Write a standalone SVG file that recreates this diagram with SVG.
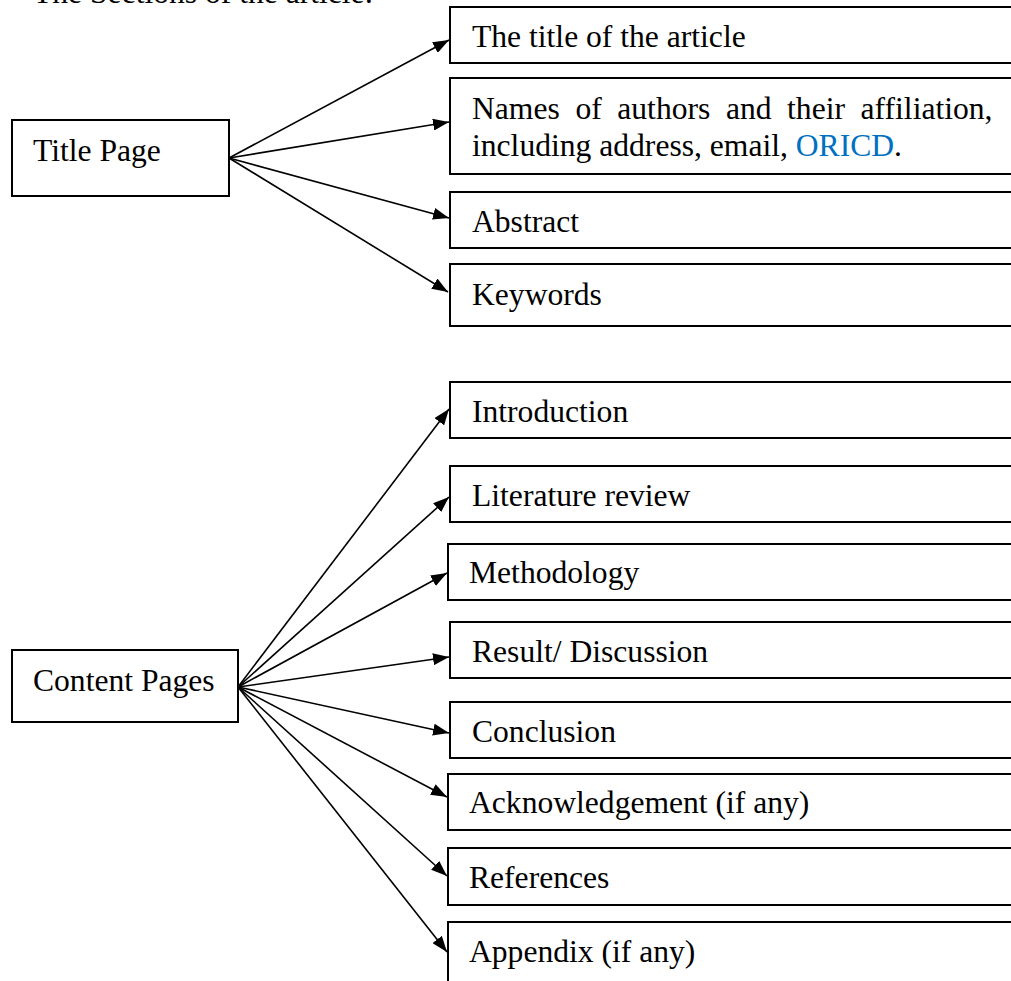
<svg xmlns="http://www.w3.org/2000/svg" width="1011" height="981" viewBox="0 0 1011 981">
<style>
  .box { fill: #ffffff; stroke: #000000; stroke-width: 2; }
  .t { font-family: "Liberation Serif", "Times New Roman", serif; font-size: 31.6px; fill: #000000; }
  .link { fill: #0070C0; }
  .con line { stroke: #000000; stroke-width: 1.6; marker-end: url(#arr); }
</style>
<defs>
  <marker id="arr" markerUnits="userSpaceOnUse" markerWidth="17" markerHeight="12" refX="16" refY="6" orient="auto">
    <path d="M0,0 L16,6 L0,12 z" fill="#000000"/>
  </marker>
</defs>
<rect width="1011" height="981" fill="#ffffff"/>
<text class="t" x="33" y="3">The Sections of the article:</text>

<g id="title-page">
  <rect class="box" x="12" y="120" width="217" height="76"/>
  <text class="t" x="33" y="161">Title Page</text>
</g>
<g id="content-pages">
  <rect class="box" x="12" y="650" width="226" height="72"/>
  <text class="t" x="33" y="691">Content Pages</text>
</g>

<g id="n-title">
  <rect class="box" x="450" y="7" width="570" height="56"/>
  <text class="t" x="472" y="47">The title of the article</text>
</g>
<g id="n-names">
  <rect class="box" x="450" y="78" width="570" height="96"/>
  <text class="t" y="119"><tspan x="472">Names</tspan><tspan x="575.4">of</tspan><tspan x="617.3">authors</tspan><tspan x="725.9">and</tspan><tspan x="787.1">their</tspan><tspan x="860.6">affiliation,</tspan></text>
  <text class="t" x="472" y="156">including address, email, <tspan class="link">ORICD</tspan>.</text>
</g>
<g id="n-abstract">
  <rect class="box" x="450" y="192" width="570" height="56"/>
  <text class="t" x="472" y="232">Abstract</text>
</g>
<g id="n-keywords">
  <rect class="box" x="450" y="264" width="570" height="62"/>
  <text class="t" x="472" y="305">Keywords</text>
</g>

<g id="n-introduction">
  <rect class="box" x="450" y="382" width="570" height="56"/>
  <text class="t" x="472" y="422">Introduction</text>
</g>
<g id="n-literature">
  <rect class="box" x="450" y="466" width="570" height="56"/>
  <text class="t" x="472" y="506">Literature review</text>
</g>
<g id="n-methodology">
  <rect class="box" x="448" y="544" width="570" height="56"/>
  <text class="t" x="469" y="583">Methodology</text>
</g>
<g id="n-result">
  <rect class="box" x="450" y="622" width="570" height="56"/>
  <text class="t" x="472" y="662">Result/ Discussion</text>
</g>
<g id="n-conclusion">
  <rect class="box" x="450" y="702" width="570" height="56"/>
  <text class="t" x="472" y="742">Conclusion</text>
</g>
<g id="n-acknowledgement">
  <rect class="box" x="448" y="774" width="570" height="56"/>
  <text class="t" x="469" y="813">Acknowledgement (if any)</text>
</g>
<g id="n-references">
  <rect class="box" x="448" y="848" width="570" height="57"/>
  <text class="t" x="469" y="888">References</text>
</g>
<g id="n-appendix">
  <rect class="box" x="448" y="922" width="570" height="70"/>
  <text class="t" x="469" y="962">Appendix (if any)</text>
</g>

<g id="connectors" class="con">
  <line x1="229" y1="158" x2="449" y2="40"/>
  <line x1="229" y1="158" x2="449" y2="122"/>
  <line x1="229" y1="158" x2="449" y2="218"/>
  <line x1="229" y1="158" x2="448" y2="292"/>
  <line x1="238" y1="687" x2="449" y2="409"/>
  <line x1="238" y1="687" x2="449" y2="497"/>
  <line x1="238" y1="687" x2="447" y2="573"/>
  <line x1="238" y1="687" x2="449" y2="657"/>
  <line x1="238" y1="687" x2="449" y2="733"/>
  <line x1="238" y1="687" x2="447" y2="797"/>
  <line x1="238" y1="687" x2="447" y2="876"/>
  <line x1="238" y1="687" x2="447" y2="952"/>
</g>
</svg>
